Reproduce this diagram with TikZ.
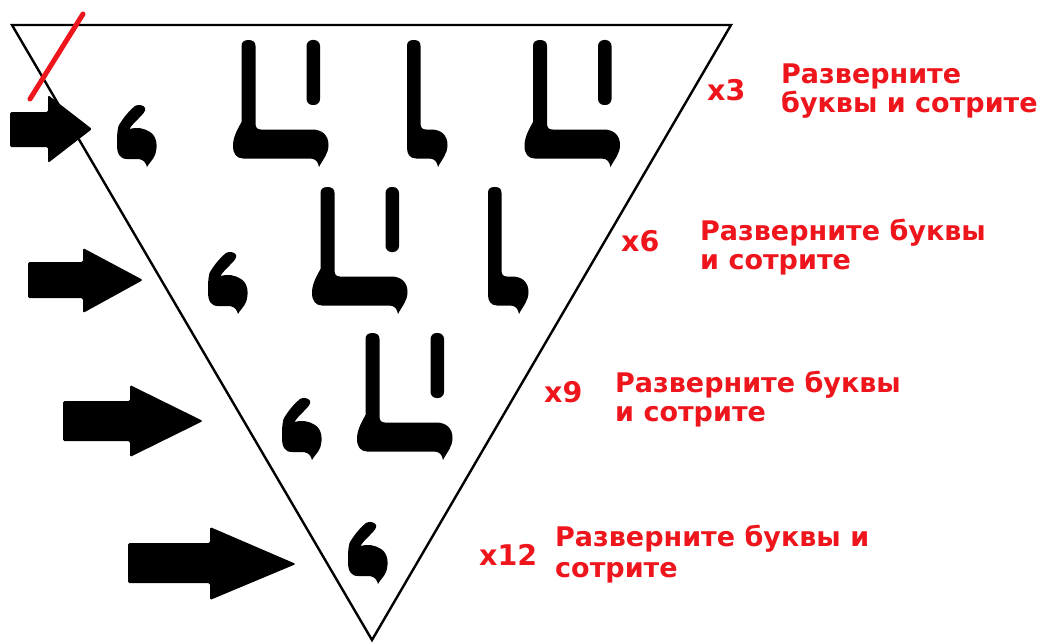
\documentclass[tikz,border=0pt]{standalone}
\usepackage{fontspec}
\setmainfont{DejaVu Sans}
\definecolor{lblred}{RGB}{238,22,28}
\tikzset{
  lbl/.style={font=\bfseries\fontsize{27}{30}\selectfont, text=lblred, inner sep=0pt, anchor=base west},
  mult/.style={lbl, font=\bfseries\fontsize{28.5}{30}\selectfont},
  glyph/.style={fill=black},
  blockarrow/.style={fill=black, rounded corners=1.5pt},
  edgeline/.style={draw=black, line width=2.4pt, line join=miter},
  strike/.style={draw=lblred, line width=5pt, line cap=round},
  pics/tse/.style={code={
    \fill[glyph] (8.5,6) .. controls (8.5,2) and (11,0) .. (15.5,0) .. controls (20,0) and (22.5,2) .. (22.5,6)
      -- (22.5,83) .. controls (22.5,87.5) and (24,89.5) .. (28,89.5) -- (79,89.5)
      .. controls (89,89.5) and (95.5,95) .. (95.5,105) .. controls (95.5,114) and (90,119) .. (86,127)
      .. controls (85,122) and (83,118.5) .. (77,118.5) -- (10,118.5)
      .. controls (4,118.5) and (0,114) .. (0,106) .. controls (0,98) and (3,92) .. (8.5,82) -- cycle;
    \fill[glyph, rounded corners=6pt] (73.5,0) rectangle (87,65);
  }},
  pics/elglyph/.style={code={
    \fill[glyph] (0,6) .. controls (0,2) and (2,0) .. (6.75,0) .. controls (11.5,0) and (13.5,2) .. (13.5,6)
      -- (13.5,83) .. controls (13.5,87.5) and (15,89.5) .. (19,89.5) -- (24,89.5)
      .. controls (34,89.5) and (40.5,95) .. (40.5,105) .. controls (40.5,114) and (35,119) .. (31,127)
      .. controls (30,122) and (28,118.5) .. (22,118.5) -- (9,118.5)
      .. controls (3,118.5) and (0,114) .. (0,108) -- cycle;
  }},
  pics/commaglyph/.style={code={
    \fill[glyph] (1.5,21) .. controls (6,13) and (12,6) .. (18,1) .. controls (21,-1) and (27,0) .. (28,3)
      .. controls (29,6) and (26,9) .. (22,13) .. controls (18,17) and (14,21) .. (12.5,24)
      .. controls (20,22) and (27,23) .. (33,27) .. controls (40,31) and (41,42) .. (38,50)
      .. controls (36,55) and (32,58) .. (30,62) .. controls (29,58) and (27,55) .. (22,54)
      -- (10,54) .. controls (3,54) and (0,49) .. (0,40) .. controls (0,32) and (0,27) .. (1.5,21) -- cycle;
  }},
}
\begin{document}
\begin{tikzpicture}[x=1pt, y=-1pt]
\useasboundingbox[fill=white] (0,0) rectangle (1045,642);
% triangle
\coordinate (tl) at (12,25);
\coordinate (tr) at (731,25);
\coordinate (bt) at (372,640);
\draw[edgeline] (tl) -- (tr) -- (bt) -- cycle;
% red strike
\coordinate (s1) at (30,99);
\coordinate (s2) at (83,14);
\draw[strike] (s1) -- (s2);
% block arrows
\fill[blockarrow] (10,112) -- (48,112) -- (48,95) -- (92,129) -- (48,163) -- (48,147) -- (10,147) -- cycle;
\fill[blockarrow] (28,262) -- (83,262) -- (83,248) -- (143,280) -- (83,313) -- (83,298) -- (28,298) -- cycle;
\fill[blockarrow] (63,401) -- (130,401) -- (130,385) -- (203,421) -- (130,457) -- (130,441) -- (63,441) -- cycle;
\fill[blockarrow] (128,543) -- (210,543) -- (210,527) -- (296,564) -- (210,600) -- (210,583) -- (128,583) -- cycle;
% row 1 glyphs
\pic at (117,105) {commaglyph};
\pic at (233,40) {tse};
\pic at (407,40) {elglyph};
\pic at (524.5,40) {tse};
% row 2
\pic at (208,252) {commaglyph};
\pic at (312,187) {tse};
\pic at (488,187) {elglyph};
% row 3
\pic at (282,398) {commaglyph};
\pic at (357,333) {tse};
% row 4
\pic at (348,522) {commaglyph};
% labels
\node[mult] (m1) at (707,101) {x3};
\node[lbl] (a1) at (781,84) {Разверните};
\node[lbl] (b1) at (781,113) {буквы и сотрите};
\node[mult] (m2) at (621,251.5) {x6};
\node[lbl] (a2) at (700,240) {Разверните буквы};
\node[lbl] (b2) at (700,269) {и сотрите};
\node[mult] (m3) at (544,402.5) {x9};
\node[lbl] (a3) at (615,392.7) {Разверните буквы};
\node[lbl] (b3) at (615,421.7) {и сотрите};
\node[mult] (m4) at (479,565.5) {x12};
\node[lbl] (a4) at (555,546.7) {Разверните буквы и};
\node[lbl] (b4) at (555,577.3) {сотрите};
\end{tikzpicture}
\end{document}
